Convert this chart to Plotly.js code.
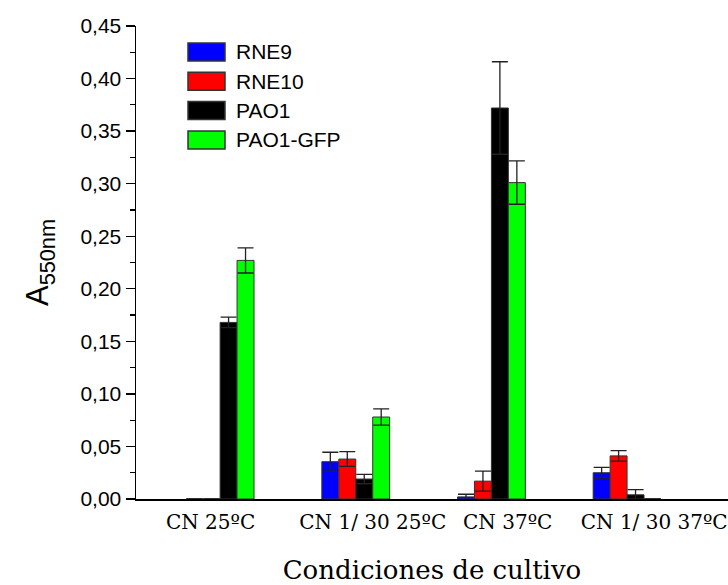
<!DOCTYPE html>
<html>
<head>
<meta charset="utf-8">
<script src="https://cdn.plot.ly/plotly-3.0.1.min.js"></script>
<style>html,body{margin:0;padding:0;background:#fff;}#chart{width:728px;height:585px;}</style>
</head>
<body>
<div id="chart"></div>
<script>
// ---- data ----
var categories = ["CN 25ºC", "CN 1/ 30 25ºC", "CN 37ºC", "CN 1/ 30 37ºC"];
var seriesNames = ["RNE9", "RNE10", "PAO1", "PAO1-GFP"];
var rne9 = [0.000, 0.0355, 0.002, 0.025];
var rne9Err = [0.000, 0.009, 0.0025, 0.005];
var rne10 = [0.000, 0.038, 0.017, 0.041];
var rne10Err = [0.000, 0.007, 0.0095, 0.005];
var pao1 = [0.168, 0.019, 0.372, 0.004];
var pao1Err = [0.005, 0.0045, 0.044, 0.005];
var pao1gfp = [0.227, 0.078, 0.301, 0.000];
var pao1gfpErr = [0.012, 0.0077, 0.0206, 0.000];
var yTicks = [0, 0.05, 0.10, 0.15, 0.20, 0.25, 0.30, 0.35, 0.40, 0.45];

// ---- styling ----
var colors = ["#0000ff", "#ff0000", "#000000", "#00ff00"];
var values = [rne9, rne10, pao1, pao1gfp];
var errs = [rne9Err, rne10Err, pao1Err, pao1gfpErr];
var xIdx = categories.map(function(_, i){ return i; });
var labelOffsets = [-0.07, 0.125, 0.12, 0.2];

var traces = seriesNames.map(function(name, k){
  return {
    type: "bar",
    name: name,
    x: xIdx,
    y: values[k],
    marker: {color: colors[k], line: {color: "#333333", width: 1}},
    error_y: {type: "data", array: errs[k], visible: true, color: "#222222", thickness: 1.3, width: 8},
    showlegend: false
  };
});

// legend drawn with shapes + annotations
var L = 136, R = 728, T = 26, B = 499;
function px(x){ return (x - L) / (R - L); }
function py(y){ return (B - y) / (B - T); }
var shapes = [], annotations = [];
seriesNames.forEach(function(name, k){
  var cy = 52 + k * 29.3;
  shapes.push({type: "rect", xref: "paper", yref: "paper",
    x0: px(188), x1: px(225), y0: py(cy - 9), y1: py(cy + 9),
    fillcolor: colors[k], line: {color: "#333333", width: 1.5}});
  annotations.push({xref: "paper", yref: "paper", x: px(234), y: py(cy),
    xanchor: "left", yanchor: "middle", showarrow: false, text: name,
    font: {family: "Liberation Sans, Arial, sans-serif", size: 21, color: "#000"}});
});

var layout = {
  width: 728, height: 585,
  margin: {l: L, r: 0, t: T, b: 585 - B},
  paper_bgcolor: "#fff", plot_bgcolor: "#fff",
  separators: ",.",
  barmode: "group", bargap: 0.5, bargroupgap: 0,
  showlegend: false,
  xaxis: {
    range: [-0.62, 3.744],
    tickmode: "array",
    tickvals: xIdx.map(function(i){ return i + labelOffsets[i]; }),
    ticktext: categories,
    ticks: "outside", ticklen: 4, tickcolor: "rgba(0,0,0,0)",
    showline: true, linecolor: "#000", linewidth: 1.5,
    showgrid: false, zeroline: false,
    tickfont: {family: "DejaVu Serif, serif", size: 20, color: "#000"},
    title: {text: "Condiciones de cultivo", standoff: 28,
      font: {family: "DejaVu Serif, serif", size: 26, color: "#000"}}
  },
  yaxis: {
    range: [0, 0.45],
    tickmode: "array", tickvals: yTicks,
    tickformat: ".2f",
    ticks: "outside", ticklen: 9, tickwidth: 1.3, tickcolor: "#000",
    minor: {dtick: 0.025, tick0: 0, ticks: "outside", ticklen: 5, tickwidth: 1.2, tickcolor: "#000"},
    showline: true, linecolor: "#000", linewidth: 1.5,
    showgrid: false, zeroline: false,
    tickfont: {family: "Liberation Sans, Arial, sans-serif", size: 21, color: "#000"},
    title: {text: "A<sub>550nm</sub>", standoff: 22,
      font: {family: "Liberation Sans, Arial, sans-serif", size: 31, color: "#000"}}
  },
  shapes: shapes,
  annotations: annotations
};

Plotly.newPlot("chart", traces, layout, {displayModeBar: false, staticPlot: true});
</script>
</body>
</html>
